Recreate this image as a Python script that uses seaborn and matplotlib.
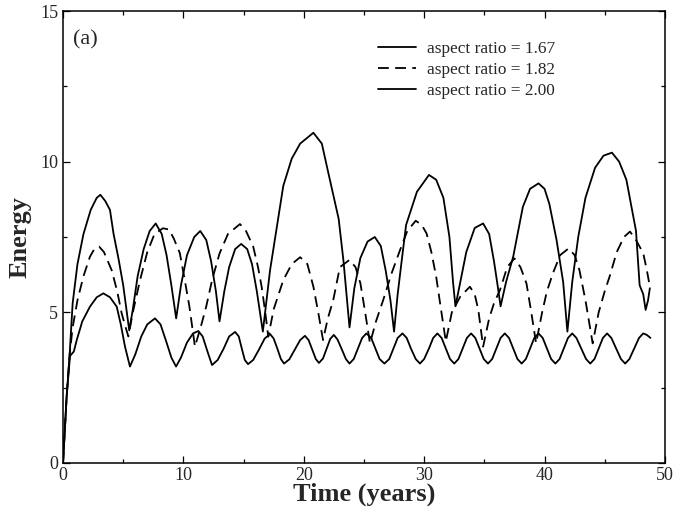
import matplotlib
matplotlib.use("Agg")
import matplotlib.pyplot as plt
import seaborn as sns
import pandas as pd
from matplotlib.ticker import MultipleLocator

# Energy time series for three aspect ratios (time in years)
t_167 = [0, 0.3, 0.58, 0.9, 1.14, 1.6, 2.24, 2.8, 3.35, 3.9, 4.46, 4.8, 5.15, 5.56,
         6.0, 6.5, 7.0, 7.64, 8.1, 8.6, 9.0, 9.39,
         9.8, 10.3, 10.8, 11.24, 11.6, 12.0, 12.38,
         12.85, 13.35, 13.8, 14.3, 14.6, 14.85, 15.1, 15.37,
         15.8, 16.3, 16.75, 17.2, 17.5, 17.8, 18.1, 18.36,
         18.8, 19.25, 19.7, 20.1, 20.4, 20.7, 21.0, 21.26,
         21.6, 21.9, 22.2, 22.5, 22.8, 23.15, 23.5, 23.8,
         24.15, 24.5, 24.85, 25.2, 25.6, 25.95, 26.3, 26.7,
         27.1, 27.45, 27.8, 28.2, 28.55, 28.9, 29.3, 29.65,
         30.0, 30.4, 30.75, 31.1, 31.45, 31.8, 32.15, 32.5,
         32.85, 33.2, 33.55, 33.9, 34.25, 34.6, 34.95, 35.3,
         35.65, 36.0, 36.35, 36.7, 37.05, 37.4, 37.75, 38.1,
         38.45, 38.8, 39.15, 39.5, 39.85, 40.2, 40.55, 40.9,
         41.25, 41.6, 41.95, 42.3, 42.65, 43.05, 43.45, 43.8,
         44.15, 44.5, 44.85, 45.2, 45.55, 45.95, 46.35, 46.7,
         47.05, 47.45, 47.85, 48.2, 48.5, 48.8]
e_167 = [0, 2.2, 3.55, 3.7, 4.08, 4.7, 5.19, 5.5, 5.63, 5.5, 5.19, 4.6, 3.86, 3.2,
         3.6, 4.2, 4.6, 4.8, 4.6, 4.0, 3.5, 3.2,
         3.5, 4.0, 4.3, 4.38, 4.2, 3.7, 3.25,
         3.42, 3.8, 4.2, 4.35, 4.2, 3.8, 3.42, 3.28,
         3.42, 3.78, 4.13, 4.28, 4.13, 3.8, 3.45, 3.3,
         3.44, 3.76, 4.08, 4.22, 4.08, 3.77, 3.45, 3.32,
         3.47, 3.8, 4.12, 4.25, 4.1, 3.78, 3.45, 3.3,
         3.45, 3.8, 4.15, 4.3, 4.15, 3.8, 3.45, 3.3,
         3.45, 3.8, 4.15, 4.3, 4.15, 3.8, 3.45, 3.3,
         3.45, 3.8, 4.15, 4.3, 4.15, 3.8, 3.45, 3.3,
         3.45, 3.8, 4.15, 4.3, 4.15, 3.8, 3.45, 3.3,
         3.45, 3.8, 4.15, 4.3, 4.15, 3.8, 3.45, 3.3,
         3.45, 3.8, 4.15, 4.3, 4.15, 3.8, 3.45, 3.3,
         3.45, 3.8, 4.15, 4.3, 4.15, 3.8, 3.45, 3.3,
         3.45, 3.8, 4.15, 4.3, 4.15, 3.8, 3.45, 3.3,
         3.45, 3.8, 4.15, 4.3, 4.25, 4.15]

t_182 = [0, 0.3, 0.55, 0.8, 1.2, 1.7, 2.24, 2.6, 3.0, 3.4, 4.04, 4.5, 4.87, 5.2, 5.43,
         5.8, 6.4, 7.0, 7.6, 8.3, 8.8, 9.2, 9.7, 10.1, 10.5, 10.96,
         11.5, 11.9, 12.4, 13.0, 13.7, 14.7, 15.2, 15.8, 16.2, 16.5, 16.8, 17.05,
         17.5, 18.3, 19.0, 19.7, 20.3, 20.8, 21.2, 21.6,
         22.0, 22.45, 23.0, 23.8, 24.3, 24.7, 25.1, 25.5,
         26.0, 26.6, 27.3, 28.0, 28.6, 29.3, 29.8, 30.2, 30.6, 31.0, 31.4, 31.8,
         32.3, 33.0, 33.8, 34.2, 34.5, 34.9,
         35.4, 35.8, 36.3, 36.9, 37.5, 38.0, 38.5, 38.9, 39.3,
         39.8, 40.2, 40.7, 41.3, 42.0, 42.5, 42.9, 43.4, 44.0,
         44.5, 45.0, 45.4, 46.0, 46.6, 47.1, 47.6, 48.2, 48.5, 48.75]
e_182 = [0, 2.2, 3.6, 4.5, 5.4, 6.2, 6.85, 7.1, 7.18, 7.0, 6.4, 5.7, 4.97, 4.5, 4.2,
         5.0, 6.07, 7.0, 7.6, 7.79, 7.75, 7.45, 6.97, 6.1, 5.19, 3.86,
         4.6, 5.2, 6.1, 6.95, 7.6, 7.93, 7.7, 7.18, 6.5, 5.85, 5.0, 4.19,
         5.1, 6.07, 6.6, 6.83, 6.6, 5.85, 5.0, 4.08,
         4.8, 5.41, 6.5, 6.74, 6.5, 5.97, 5.0, 3.97,
         4.7, 5.41, 6.3, 7.07, 7.7, 8.04, 7.9, 7.62, 7.0, 6.18, 5.1, 4.03,
         5.0, 5.52, 5.85, 5.6, 5.08, 3.86,
         4.8, 5.3, 5.74, 6.5, 6.79, 6.5, 5.96, 5.0, 3.97,
         5.0, 5.7, 6.3, 6.9, 7.12, 6.9, 6.4, 5.4, 3.97,
         5.0, 5.7, 6.18, 7.0, 7.5, 7.68, 7.4, 6.96, 6.4, 5.85]

t_200 = [0, 0.3, 0.55, 0.8, 1.2, 1.7, 2.3, 2.8, 3.1, 3.5, 3.9, 4.2, 4.6, 5.0, 5.3, 5.5,
         5.8, 6.2, 6.7, 7.2, 7.7, 8.2, 8.6, 9.0, 9.4,
         9.8, 10.3, 10.9, 11.4, 11.9, 12.3, 12.7, 13.0,
         13.4, 13.8, 14.3, 14.8, 15.3, 15.7, 16.1, 16.6,
         17.2, 18.3, 19.0, 19.7, 20.8, 21.5, 22.0, 22.9, 23.3, 23.8,
         24.2, 24.7, 25.3, 25.9, 26.4, 26.8, 27.2, 27.5,
         27.8, 28.1, 28.5, 29.4, 30.4, 31.0, 31.6, 32.1, 32.4, 32.6,
         33.0, 33.5, 34.2, 34.9, 35.4, 35.8, 36.1, 36.35,
         36.8, 37.4, 38.2, 38.8, 39.5, 40.0, 40.4, 41.0, 41.55, 41.9,
         42.3, 42.8, 43.4, 44.2, 44.9, 45.6, 46.2, 46.8, 47.6, 47.9, 48.2, 48.4, 48.6, 48.75]
e_200 = [0, 2.2, 3.6, 5.3, 6.6, 7.6, 8.4, 8.8, 8.9, 8.7, 8.4, 7.6, 6.8, 5.9, 5.0, 4.4,
         5.1, 6.2, 7.1, 7.7, 7.95, 7.6, 6.9, 5.9, 4.8,
         5.9, 6.9, 7.5, 7.7, 7.4, 6.7, 5.7, 4.7,
         5.7, 6.5, 7.1, 7.27, 7.1, 6.6, 5.7, 4.36,
         6.4, 9.2, 10.1, 10.6, 10.96, 10.6, 9.7, 8.1, 6.7, 4.5,
         5.8, 6.8, 7.35, 7.5, 7.2, 6.4, 5.4, 4.36,
         5.6, 6.6, 7.9, 9.0, 9.56, 9.4, 8.8, 7.5, 6.0, 5.2,
         6.0, 7.0, 7.8, 7.95, 7.6, 6.7, 5.9, 5.2,
         6.0, 6.85, 8.5, 9.1, 9.28, 9.1, 8.6, 7.4, 6.0, 4.36,
         6.0, 7.5, 8.8, 9.8, 10.2, 10.3, 10.0, 9.4, 7.7, 5.9, 5.6, 5.08, 5.4, 5.8]

legend_labels = ["aspect ratio = 1.67", "aspect ratio = 1.82", "aspect ratio = 2.00"]
x_ticks = [0, 10, 20, 30, 40, 50]
y_ticks = [0, 5, 10, 15]

sns.set_style("ticks")
plt.rcParams["font.family"] = ["Liberation Serif", "DejaVu Serif"]

fig = plt.figure(figsize=(6.74, 5.13), dpi=100)
ax = fig.add_axes([0.0935, 0.0975, 0.893, 0.881])

df167 = pd.DataFrame({"t": t_167, "E": e_167})
df182 = pd.DataFrame({"t": t_182, "E": e_182})
df200 = pd.DataFrame({"t": t_200, "E": e_200})

sns.lineplot(data=df167, x="t", y="E", ax=ax, color="black", lw=1.3,
             sort=False, estimator=None, label=legend_labels[0])
sns.lineplot(data=df182, x="t", y="E", ax=ax, color="black", lw=1.3,
             sort=False, estimator=None, label=legend_labels[1])
ax.lines[-1].set_dashes([6, 3.5])
sns.lineplot(data=df200, x="t", y="E", ax=ax, color="black", lw=1.3,
             sort=False, estimator=None, label=legend_labels[2])

ax.set_xlim(0, 50)
ax.set_ylim(0, 15)
ax.set_xticks(x_ticks)
ax.set_yticks(y_ticks)
ax.xaxis.set_minor_locator(MultipleLocator(5))
ax.yaxis.set_minor_locator(MultipleLocator(2.5))
ax.tick_params(which="both", direction="in", top=True, right=True,
               labelsize=13, color="black", width=0.9)
ax.tick_params(which="major", length=5)
ax.tick_params(which="minor", length=3)
ax.tick_params(axis="x", pad=3)
for s in ax.spines.values():
    s.set_visible(True)
    s.set_color("black")
    s.set_linewidth(1.1)

ax.set_xlabel("Time (years)", fontsize=19, fontweight="bold", labelpad=-1)
ax.set_ylabel("Energy", fontsize=19, fontweight="bold", labelpad=6)

ax.text(0.017, 0.958, "(a)", transform=ax.transAxes, fontsize=16,
        va="top", ha="left")

leg = ax.legend(loc="upper right", bbox_to_anchor=(0.834, 0.957), frameon=False,
                fontsize=12.4, handlelength=2.2, handletextpad=0.6,
                labelspacing=0.3, borderaxespad=0.2)

fig.savefig("out.png", dpi=100, facecolor="white")
